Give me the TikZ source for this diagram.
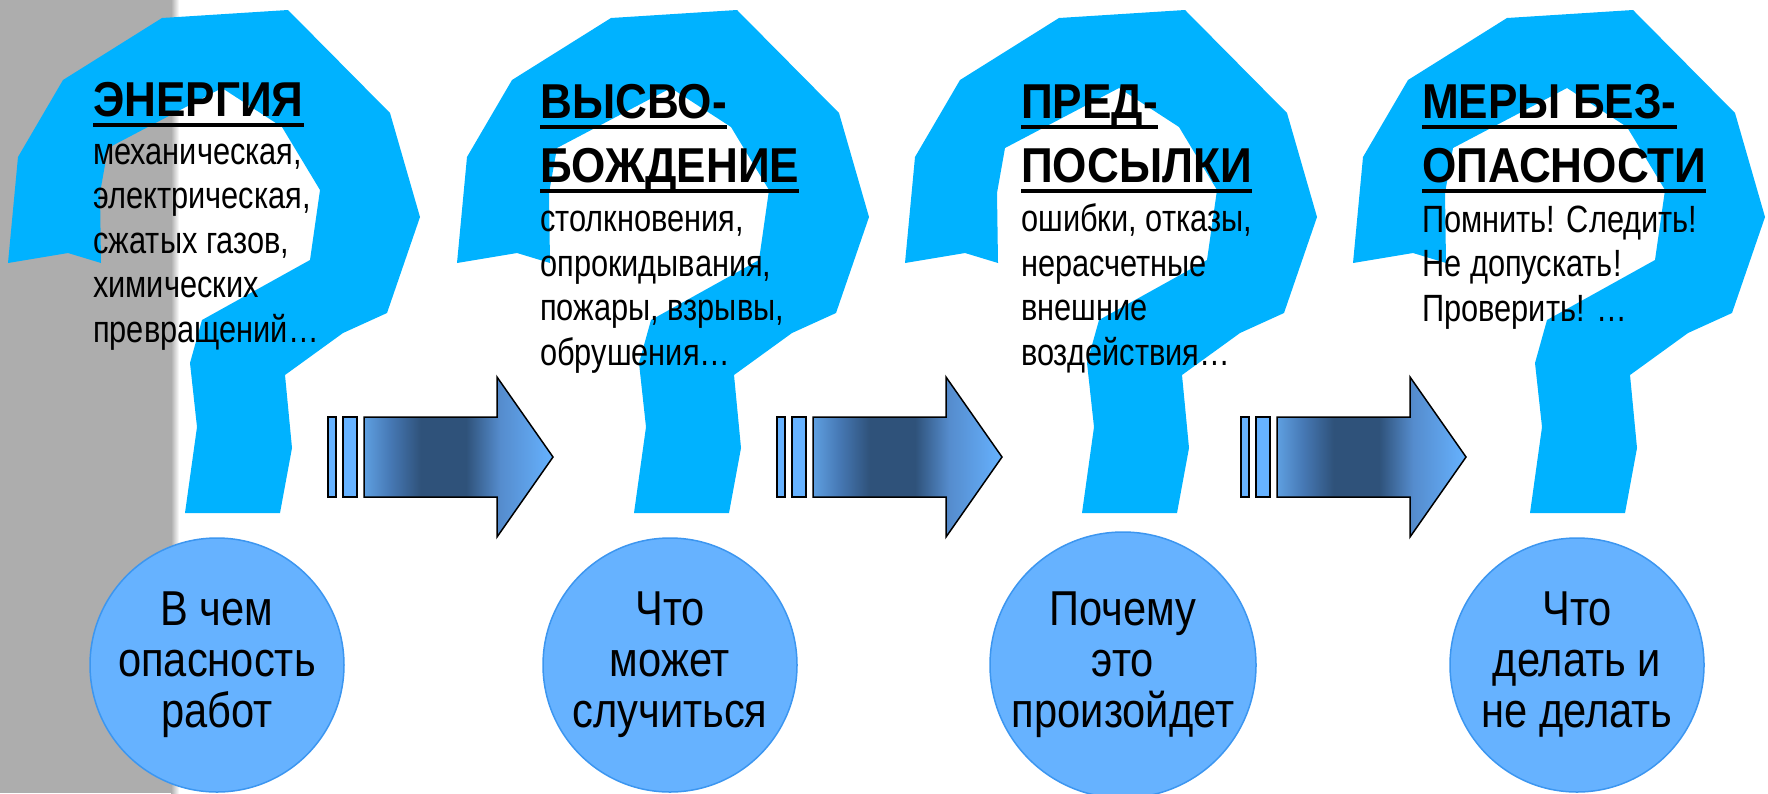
\documentclass[tikz,border=0pt]{standalone}
\usepackage{fontspec}
\setmainfont[FakeStretch=0.85]{Liberation Sans}
\newfontfamily\bodyfont[FakeStretch=0.81]{Liberation Sans}
\newfontfamily\headfont[FakeStretch=0.9]{Liberation Sans}
\definecolor{qblue}{RGB}{0,178,255}
\definecolor{bubfill}{RGB}{102,178,255}
\definecolor{bubline}{RGB}{60,150,240}
\definecolor{greyband}{RGB}{173,173,173}
\pgfdeclarehorizontalshading{arrshade}{100bp}{color(0bp)=(rgb,255:red,95;green,160;blue,225);color(25bp)=(rgb,255:red,95;green,160;blue,225);color(32bp)=(rgb,255:red,70;green,120;blue,180);color(40bp)=(rgb,255:red,47;green,82;blue,122);color(52bp)=(rgb,255:red,47;green,82;blue,122);color(61bp)=(rgb,255:red,85;green,140;blue,205);color(75bp)=(rgb,255:red,102;green,178;blue,255);color(100bp)=(rgb,255:red,102;green,178;blue,255)}
\newcommand\hdul[1]{\setbox0=\hbox{#1}\rlap{\vrule height -7pt depth 10.5pt width \wd0}\box0}

\begin{document}
\begin{tikzpicture}[x=1pt,y=-1pt,
 qmark/.style={fill=qblue},
 bar/.style={fill=bubfill,draw=black,line width=1.5pt},
 bigarrow/.style={shading=arrshade,draw=black,line width=1.5pt,line join=miter},
 bubble/.style={circle,fill=bubfill,draw=bubline,line width=1.5pt,minimum size=254pt,inner sep=0pt,align=center,font=\fontsize{49}{51}\selectfont},
 head/.style={anchor=base west,inner sep=0pt,align=left,font=\headfont\bfseries\fontsize{49}{64}\selectfont},
 body/.style={anchor=base west,inner sep=0pt,align=left,font=\bodyfont\fontsize{38}{44.5}\selectfont}]
\useasboundingbox(0,0)rectangle(1768,793);
% grey band on the left
\fill[greyband](0,0)rectangle(171,793);\shade[left color=greyband,right color=white](171,0)rectangle(179,793);
% question marks
\foreach\x in{8,457,905,1353}{\fill[qmark,shift={(\x,0)}](0,263)--(10,157)--(55,80)--(154,18)--(280,10)--(382,113)--(412,217)--(379,313)--(335,333)--(277,375)--(284,448)--(272,513)--(177,513)--(189,427)--(182,363)--(194,320)--(302,260)--(312,190)--(274,127)--(214,88)--(100,148)--(92,193)--(93,263)--(60,253)--cycle;}
% arrows
\foreach\s in{328,777,1241}{\draw[bar](\s,417)rectangle(\s+8,497);\draw[bar](\s+15,417)rectangle(\s+29,497);
 \draw[bigarrow](\s+36,417)--(\s+169,417)--(\s+169,377)--(\s+225,457)--(\s+169,537)--(\s+169,497)--(\s+36,497)--cycle;}
% texts (placed at the baseline of the last line)
\node[head](h1)at(93,116){\hdul{ЭНЕРГИЯ}};
\node[body](b1)at(93,342){механическая,\\электрическая,\\сжатых газов,\\химических\\превращений…};
\node[head](h2)at(540,182){\hdul{ВЫСВО-}\\\hdul{БОЖДЕНИЕ}};
\node[body](b2)at(540,365){столкновения,\\опрокидывания,\\пожары, взрывы,\\обрушения…};
\node[head](h3)at(1021,182){\hdul{ПРЕД-}\\\hdul{ПОСЫЛКИ}};
\node[body](b3)at(1021,365){ошибки, отказы,\\нерасчетные\\внешние\\воздействия…};
\node[head](h4)at(1422,182){\hdul{МЕРЫ БЕЗ-}\\\hdul{ОПАСНОСТИ}};
\node[body](b4)at(1422,321){Помнить! Следить!\\Не допускать!\\Проверить! …};
% circles
\node[bubble](c1)at(217,665){В чем\\опасность\\работ};
\node[bubble](c2)at(670,665){Что\\может\\случиться};
\node[bubble](c3)at(1123,665){Почему\\это\\произойдет};
\node[bubble](c4)at(1577,665){Что\\делать и\\не делать};
\end{tikzpicture}
\end{document}
